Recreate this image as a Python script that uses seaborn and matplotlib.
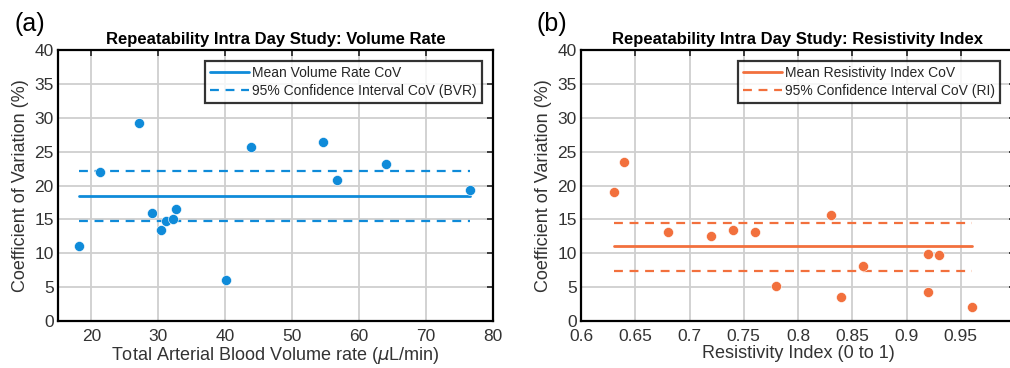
import matplotlib
matplotlib.use("Agg")
import matplotlib.pyplot as plt
import seaborn as sns
import pandas as pd
import numpy as np

sns.set_theme(style="white")
plt.rcParams['font.family'] = ['Liberation Sans', 'DejaVu Sans']

# Panel (a) data
bvr_x = [18.2, 21.3, 27.1, 29.0, 30.4, 31.2, 32.2, 32.7, 40.1, 43.9, 54.6, 56.7, 64.0, 76.6]
bvr_cov = [11.0, 22.0, 29.2, 15.9, 13.5, 14.7, 15.0, 16.6, 6.0, 25.7, 26.4, 20.8, 23.1, 19.3]
bvr_mean = 18.5
bvr_ci = [14.8, 22.2]

# Panel (b) data
ri_x = [0.63, 0.64, 0.68, 0.72, 0.74, 0.76, 0.78, 0.83, 0.84, 0.86, 0.92, 0.93, 0.92, 0.96]
ri_cov = [19.0, 23.4, 13.2, 12.5, 13.5, 13.2, 5.1, 15.7, 3.6, 8.1, 9.9, 9.8, 4.3, 2.1]
ri_mean = 11.0
ri_ci = [7.4, 14.5]

blue = "#0f8bd9"
orange = "#f2703d"

W, H = 1010, 368
fig = plt.figure(figsize=(W / 100, H / 100), dpi=100)

def px_axes(l, t, r, b):
    return fig.add_axes([l / W, 1 - b / H, (r - l) / W, (b - t) / H])

def style(ax, xlim, xticks, xticklabels, xlabel, title):
    ax.set_xlim(*xlim)
    ax.set_ylim(0, 40)
    ax.set_xticks(xticks)
    ax.set_xticklabels(xticklabels)
    ax.set_yticks(range(0, 41, 5))
    ax.grid(True, color="#cfcfcf", linewidth=1.3)
    ax.set_axisbelow(True)
    for s in ax.spines.values():
        s.set_color("black")
        s.set_linewidth(1.6)
    ax.tick_params(direction="in", length=4, width=1.2, top=True, right=True,
                   labelsize=12.5, colors="#222222", pad=3)
    ax.tick_params(axis="x", pad=5.5)
    ax.tick_params(axis="both", labelcolor="#333333")
    ax.set_xlabel(xlabel, fontsize=13, color="#333333", labelpad=1)
    ax.set_ylabel("Coefficient of Variation (%)", fontsize=13, color="#333333", labelpad=4)
    ax.set_title(title, fontsize=12, fontweight="bold", color="black", pad=4)

leg_kw = dict(fontsize=10, frameon=True, fancybox=False, edgecolor="black",
              handlelength=2.8, handletextpad=0.25, borderpad=0.35,
              labelspacing=0.3, borderaxespad=0.8)

# Panel (a)
ax1 = px_axes(58, 50, 493, 321)
xa0, xa1 = min(bvr_x), max(bvr_x)
ax1.plot([xa0, xa1], [bvr_mean, bvr_mean], color=blue, lw=2, label="Mean Volume Rate CoV")
ax1.plot([xa0, xa1], [bvr_ci[0]] * 2, color=blue, lw=1.6, ls=(0, (4, 3)),
         label="95% Confidence Interval CoV (BVR)")
ax1.plot([xa0, xa1], [bvr_ci[1]] * 2, color=blue, lw=1.6, ls=(0, (4, 3)))
sns.scatterplot(x=bvr_x, y=bvr_cov, ax=ax1, color=blue, s=52, edgecolor="white",
                linewidth=0.4, legend=False, zorder=3)
style(ax1, (15, 80), range(20, 81, 10), [str(v) for v in range(20, 81, 10)],
      "Total Arterial Blood Volume rate ($\\mu$L/min)",
      "Repeatability Intra Day Study: Volume Rate")
leg = ax1.legend(loc="upper right", **leg_kw)
leg.get_frame().set_linewidth(1.6)
fig.text(14 / W, 1 - 31 / H, "(a)", fontsize=18, color="black")

# Panel (b)
ax2 = px_axes(581, 50, 1015, 321)
xb0, xb1 = min(ri_x), max(ri_x)
ax2.plot([xb0, xb1], [ri_mean, ri_mean], color=orange, lw=2, label="Mean Resistivity Index CoV")
ax2.plot([xb0, xb1], [ri_ci[0]] * 2, color=orange, lw=1.6, ls=(0, (4, 3)),
         label="95% Confidence Interval CoV (RI)")
ax2.plot([xb0, xb1], [ri_ci[1]] * 2, color=orange, lw=1.6, ls=(0, (4, 3)))
sns.scatterplot(x=ri_x, y=ri_cov, ax=ax2, color=orange, s=52, edgecolor="white",
                linewidth=0.4, legend=False, zorder=3)
rticks = [0.6, 0.65, 0.7, 0.75, 0.8, 0.85, 0.9, 0.95, 1.0]
style(ax2, (0.6, 1.0), rticks, ["0.6", "0.65", "0.7", "0.75", "0.8", "0.85", "0.9", "0.95", ""],
      "Resistivity Index (0 to 1)",
      "Repeatability Intra Day Study: Resistivity Index")
leg2 = ax2.legend(loc="upper right", bbox_to_anchor=((1015 - 581) / 434 - 4 / 434, 1.0), **leg_kw)
leg2.get_frame().set_linewidth(1.6)
fig.text(537 / W, 1 - 31 / H, "(b)", fontsize=18, color="black")

fig.savefig("out.png", dpi=100)
